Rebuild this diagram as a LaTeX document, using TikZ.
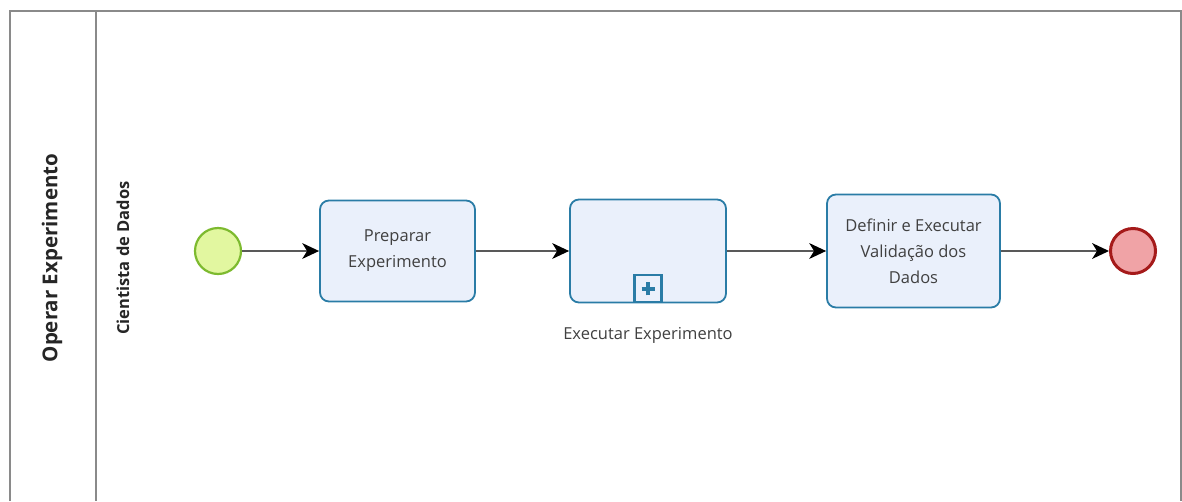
\documentclass[tikz,border=0pt]{standalone}
\usepackage{fontspec}
\setmainfont{Open Sans}
\usetikzlibrary{arrows.meta}
\definecolor{taskfill}{HTML}{EAF0FB}
\definecolor{taskline}{HTML}{2A7CA6}
\definecolor{startfill}{HTML}{E2F7A0}
\definecolor{startline}{HTML}{7DBA2F}
\definecolor{endfill}{HTML}{F0A3A6}
\definecolor{endline}{HTML}{A51A1A}
\definecolor{poolline}{HTML}{8A8A8A}
\definecolor{txt}{HTML}{404040}
\tikzset{
  x=1pt, y=-1pt,
  pool/.style={draw=poolline, line width=1.6pt},
  task/.style={draw=taskline, fill=taskfill, line width=1.8pt, rounded corners=9pt,
    align=center, font=\fontsize{16.5}{26}\selectfont, text=txt, inner sep=0pt},
  startev/.style={circle, draw=startline, fill=startfill, line width=2.2pt, minimum size=46pt, inner sep=0pt},
  endev/.style={circle, draw=endline, fill=endfill, line width=3pt, minimum size=45pt, inner sep=0pt},
  flow/.style={draw=black!65, line width=2.4pt, -{Stealth[length=17pt, width=16pt, inset=5pt, fill=black, line width=0pt]}},
}
\begin{document}
\begin{tikzpicture}
\useasboundingbox (0,0) rectangle (1182,501);
% pool and lane frame
\draw[pool] (10,501) -- (10,11) -- (1181,11) -- (1181,501);
\draw[pool] (96,11) -- (96,501);
\node[rotate=90, font=\bfseries\fontsize{20.5}{24}\selectfont, text=black!85] (pooltitle) at (52,258) {Operar Experimento};
\node[rotate=90, font=\bfseries\fontsize{16.5}{18}\selectfont, text=black!85] (lanetitle) at (123,258) {Cientista de Dados};
% events and activities
\node[startev] (start) at (218,251) {};
\node[task, minimum width=155pt, minimum height=101pt] (prep) at (397.5,251) {Preparar\\Experimento};
\node[task, minimum width=156pt, minimum height=103pt] (exec) at (648,251) {};
\node[draw=taskline, fill=taskfill, line width=2.2pt, minimum size=27pt, inner sep=0pt, anchor=south] (marker) at (exec.south) {};
\draw[taskline, line width=3.8pt] (marker.center) +(-6.5pt,0) -- +(6.5pt,0)
  (marker.center) +(0,-6.5pt) -- +(0,6.5pt);
\node[font=\fontsize{16.5}{20}\selectfont, text=txt, anchor=north] (execlabel) at ([yshift=-20pt]exec.south) {Executar Experimento};
\node[task, minimum width=173pt, minimum height=113pt] (valid) at (913.5,251) {Definir e Executar\\Validação dos\\Dados};
\node[endev] (end) at (1133,251) {};
% sequence flows
\draw[flow] (start) -- (prep);
\draw[flow] (prep) -- (exec);
\draw[flow] (exec) -- (valid);
\draw[flow] (valid) -- (end);
\end{tikzpicture}
\end{document}
